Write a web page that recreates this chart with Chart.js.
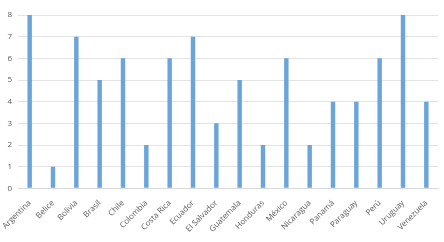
<!DOCTYPE html>
<html>
<head>
<meta charset="utf-8">
<script src="https://cdn.jsdelivr.net/npm/chart.js@4/dist/chart.umd.min.js"></script>
<style>
  html, body { margin: 0; padding: 0; background: #fff; }
  #wrap { width: 444px; height: 242px; }
</style>
</head>
<body>
<div id="wrap"><canvas id="myChart" width="444" height="242"></canvas></div>
<script>
// data
const paises = ["Argentina", "Belice", "Bolivia", "Brasil", "Chile", "Colombia", "Costa Rica", "Ecuador",
  "El Salvador", "Guatemala", "Honduras", "México", "Nicaragua", "Panamá", "Paraguay", "Perú", "Uruguay", "Venezuela"];
const valores = [8, 1, 7, 5, 6, 2, 6, 7, 3, 5, 2, 6, 2, 4, 4, 6, 8, 4];
const yTicks = [0, 1, 2, 3, 4, 5, 6, 7, 8];

const tickFont = { family: "'Open Sans', 'Liberation Sans', sans-serif", size: 8 };

new Chart(document.getElementById('myChart'), {
    type: 'bar',
    data: {
        labels: paises,
        datasets: [{
            data: valores,
            backgroundColor: '#6aa4d8',
            borderWidth: 0,
            barPercentage: 0.19,
            categoryPercentage: 1
        }]
    },
    options: {
        responsive: false,
        animation: false,
        plugins: { legend: { display: false }, tooltip: { enabled: false } },
        layout: { padding: { top: 15, right: 6, left: 4, bottom: 6 } },
        scales: {
            x: {
                grid: { display: false },
                border: { display: true, color: '#d9d9d9' },
                ticks: { color: '#595959', font: tickFont, minRotation: 45, maxRotation: 45, autoSkip: false, padding: 2 }
            },
            y: {
                min: yTicks[0],
                max: yTicks[yTicks.length - 1],
                grid: { color: '#e3e3e3', drawTicks: false },
                border: { display: false },
                ticks: { stepSize: 1, color: '#595959', font: tickFont, padding: 6 },
                afterFit: function (scale) { scale.width = 14; }
            }
        }
    }
});
</script>
</body>
</html>
